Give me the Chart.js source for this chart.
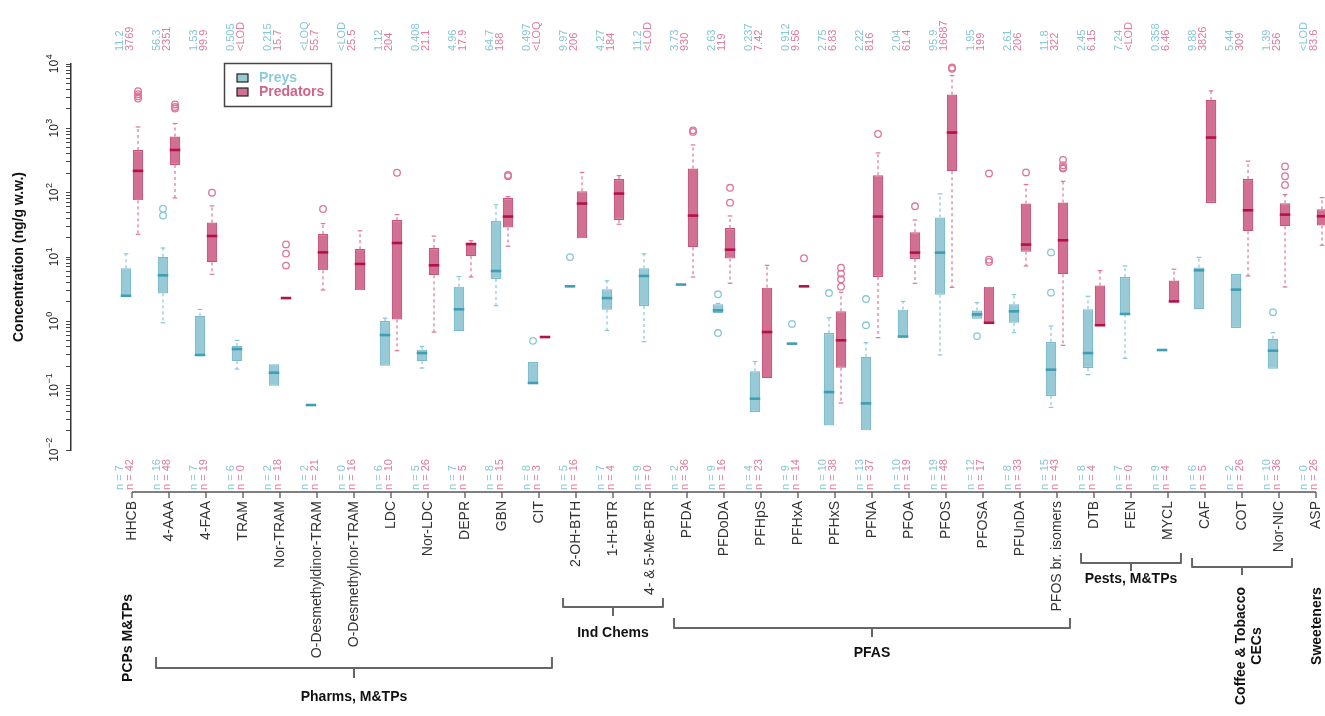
<!DOCTYPE html>
<html><head><meta charset="utf-8">
<script src="https://cdn.jsdelivr.net/npm/chart.js@4.4.1/dist/chart.umd.min.js"></script>
<style>html,body{margin:0;padding:0;background:#fff;}#wrap{width:1325px;height:716px;}</style>
</head><body><div id="wrap"><canvas id="c" width="1325" height="716"></canvas></div>
<script>
const categories = ['HHCB','4-AAA','4-FAA','TRAM','Nor-TRAM','O-Desmethyldinor-TRAM','O-Desmethylnor-TRAM','LDC','Nor-LDC','DEPR','GBN','CIT','2-OH-BTH','1-H-BTR','4- & 5-Me-BTR','PFDA','PFDoDA','PFHpS','PFHxA','PFHxS','PFNA','PFOA','PFOS','PFOSA','PFUnDA','PFOS br. isomers','DTB','FEN','MYCL','CAF','COT','Nor-NIC','ASP'];
const groups = [
  {name:'PCPs M&TPs', from:0, to:0},
  {name:'Pharms, M&TPs', from:1, to:11},
  {name:'Ind Chems', from:12, to:14},
  {name:'PFAS', from:15, to:25},
  {name:'Pests, M&TPs', from:26, to:28},
  {name:'Coffee & Tobacco\nCECs', from:29, to:31},
  {name:'Sweeteners', from:32, to:32}
];
const yTickExponents = [-2,-1,0,1,2,3,4];

// Preys
const preysLow    = [2.5,0.95,0.30,0.181,0.1,0.05,null,0.204,0.188,0.70,1.75,0.109,3.5,0.72,0.483,3.73,1.35,0.0389,0.45,0.024,0.0202,0.57,0.3,1.1,0.667,0.046,0.148,0.266,0.358,1.54,0.787,0.184,null];
const preysQ1     = [2.5,2.72,0.30,0.241,0.1,0.05,null,0.204,0.241,0.70,4.55,0.109,3.5,1.52,1.73,3.73,1.35,0.0389,0.45,0.024,0.0202,0.57,2.6,1.1,0.95,0.069,0.188,1.28,0.358,1.54,0.787,0.184,null];
const preysMedian = [2.5,5.19,0.30,0.371,0.159,0.05,null,0.612,0.321,1.54,6.06,0.11,3.5,2.3,5.07,3.73,1.48,0.0627,0.45,0.0796,0.053,0.58,11.7,1.28,1.43,0.177,0.321,1.3,0.358,6.21,3.11,0.35,null];
const preysQ3     = [6.7,10.1,1.22,0.413,0.215,0.05,null,1.01,0.363,3.46,36.3,0.233,3.5,3.15,6.67,3.73,1.84,0.167,0.45,0.658,0.282,1.52,41,1.47,1.84,0.477,1.54,4.89,0.358,6.84,5.44,0.537,null];
const preysHigh   = [11.2,13.8,1.53,0.505,0.215,0.05,null,1.12,0.408,4.96,64.7,0.233,3.5,4.27,11.2,3.73,1.9,0.237,0.45,1.14,0.466,2.04,95.9,1.95,2.61,0.845,2.45,7.24,0.358,9.88,5.44,0.667,null];
const preysOutliers = [[],[56.3,44],[],[],[],[],[],[],[],[],[],[0.497],[9.97],[],[],[],[2.63,0.658],[],[0.912],[2.75],[2.22,0.867],[],[],[0.59],[],[11.8,2.79],[],[],[],[],[],[1.39],[]];
const preysN   = [7,16,7,6,2,2,0,6,5,7,8,8,5,7,9,2,9,4,9,10,13,10,19,12,8,15,8,7,9,6,2,10,0];
const preysMax = ['11.2','56.3','1.53','0.505','0.215','<LOQ','<LOD','1.12','0.408','4.96','64.7','0.497','9.97','4.27','11.2','3.73','2.63','0.237','0.912','2.75','2.22','2.04','95.9','1.95','2.61','11.8','2.45','7.24','0.358','9.88','5.44','1.39','<LOD'];

// Predators
const predLow    = [22.5,82.7,5.38,null,2.3,3.07,3.03,0.35,0.68,4.89,14.7,0.57,19.5,32.3,null,4.89,3.9,0.131,3.5,0.0537,0.557,3.9,3.38,0.94,7.25,0.424,0.857,null,2.02,69.2,5.07,3.42,15.2];
const predQ1     = [76,270,8.27,null,2.3,6.2,3.03,1.07,5.19,10.3,28.7,0.57,19.5,37.6,null,14.2,9.44,0.131,3.5,0.19,4.89,9.3,215,0.94,12.1,5.38,0.857,null,2.02,69.2,25.1,30,30.8];
const predMedian = [218,461,21.2,null,2.3,11.8,7.8,16.5,7.43,15.9,42.5,0.57,67.7,96.8,null,44,13.0,0.682,3.5,0.507,42.5,11.7,860,0.95,15.6,18.2,0.87,null,2.04,719,53.2,45.6,43];
const predQ3     = [461,745,34.3,null,2.3,22.8,13.3,37.6,13.8,16.7,82.7,0.57,105,163,null,237,28.3,3.34,3.5,1.43,187,24.2,3357,3.46,67.7,70.2,3.59,null,4.3,2766,163,68.4,55.2];
const predHigh   = [1050,1187,62.2,null,2.3,33,25.5,45.6,21.1,17.9,87,0.57,206,184,null,552,43.4,7.42,3.5,2.83,415,37.6,6627,3.46,134,150,6.15,null,6.46,3826,309,93.4,83.6];
const predOutliers = [[3769,3400,3150,2900],[2351,2150,2030],[99.9],[],[15.7,11.3,7.35],[55.7],[],[204],[],[],[188,180],[],[],[],[],[930,880],[119,70],[],[9.56],[6.83,5.52,4.5,3.46],[816],[61.4],[8800,8400],[199,9.1,8.36],[206],[322,267,245,237],[],[],[],[],[],[256,180,132],[]];
const predN   = [42,48,19,0,18,21,16,10,26,5,15,3,16,4,0,36,16,23,14,38,37,19,48,17,33,43,4,0,4,5,26,36,26];
const predMax = ['3769','2351','99.9','<LOD','15.7','55.7','25.5','204','21.1','17.9','188','<LOQ','206','184','<LOD','930','119','7.42','9.56','6.83','816','61.4','16687','199','206','322','6.15','<LOD','6.46','3826','309','256','83.6'];

const FONT = '"Liberation Sans", Arial, Helvetica, sans-serif';
const COL = {
  preys: {fill:'rgba(128,190,205,0.82)', border:'#78bacb', median:'#3f9db4', whisker:'#86c8d7', text:'#86c6d6'},
  pred:  {fill:'rgba(204,92,132,0.88)', border:'#c4547c', median:'#b2124b', whisker:'#dc7597', text:'#e07b9e'}
};

function rotText(ctx, text, x, y, align, baseline, font, color){
  ctx.save(); ctx.translate(x, y); ctx.rotate(-Math.PI/2);
  ctx.font = font; ctx.fillStyle = color; ctx.textAlign = align; ctx.textBaseline = baseline;
  ctx.fillText(text, 0, 0); ctx.restore();
}
function seg(ctx, x1, y1, x2, y2){ ctx.beginPath(); ctx.moveTo(x1,y1); ctx.lineTo(x2,y2); ctx.stroke(); }

const bracketLayout = [
  {rotated:true, labelY:638, dx:-4},
  {lineY:668, armTop:657, stemBottom:678, labelY:697},
  {lineY:607, armTop:598, stemBottom:616, labelY:633},
  {lineY:628, armTop:618, stemBottom:637, labelY:653},
  {lineY:563, armTop:553, stemBottom:571, labelY:579},
  {lineY:567, armTop:558, stemBottom:575, rotated:true, labelY:646, dx:7},
  {rotated:true, labelY:626, dx:1}
];

const boxPlugin = {
  id: 'boxExtras',
  afterDatasetsDraw(chart){
    const ctx = chart.ctx, ys = chart.scales.y;
    const series = [
      {meta: chart.getDatasetMeta(0), low: preysLow, q1: preysQ1, med: preysMedian, q3: preysQ3, high: preysHigh, out: preysOutliers, col: COL.preys},
      {meta: chart.getDatasetMeta(1), low: predLow, q1: predQ1, med: predMedian, q3: predQ3, high: predHigh, out: predOutliers, col: COL.pred}
    ];
    const py = v => ys.getPixelForValue(v);
    series.forEach(s => {
      s.meta.data.forEach((el, i) => {
        const cx = el.x, w = el.width;
        ctx.save();
        ctx.strokeStyle = s.col.whisker; ctx.lineWidth = 1.2;
        if (s.med[i] != null) {
          ctx.setLineDash([3,3]);
          if (s.high[i] > s.q3[i]) seg(ctx, cx, py(s.q3[i]), cx, py(s.high[i]));
          if (s.low[i] < s.q1[i]) seg(ctx, cx, py(s.q1[i]), cx, py(s.low[i]));
          ctx.setLineDash([]);
          if (s.high[i] > s.q3[i]) seg(ctx, cx - w*0.22, py(s.high[i]), cx + w*0.22, py(s.high[i]));
          if (s.low[i] < s.q1[i]) seg(ctx, cx - w*0.22, py(s.low[i]), cx + w*0.22, py(s.low[i]));
          ctx.strokeStyle = s.col.median; ctx.lineWidth = 2.6;
          seg(ctx, cx - w/2, py(s.med[i]), cx + w/2, py(s.med[i]));
        }
        ctx.strokeStyle = s.col.whisker; ctx.lineWidth = 1.3;
        (s.out[i] || []).forEach(v => {
          ctx.beginPath(); ctx.arc(cx, py(v), 3.3, 0, Math.PI*2); ctx.stroke();
        });
        ctx.restore();
      });
    });
  },
  afterDraw(chart){
    const ctx = chart.ctx, xs = chart.scales.x, ys = chart.scales.y;
    const f11 = '11px ' + FONT;
    categories.forEach((c, i) => {
      const px = xs.getPixelForValue(i);
      rotText(ctx, preysMax[i], px - 12, 51, 'left', 'middle', f11, COL.preys.text);
      rotText(ctx, predMax[i], px - 2, 51, 'left', 'middle', f11, COL.pred.text);
      rotText(ctx, 'n = ' + preysN[i], px - 12, 490, 'left', 'middle', f11, COL.preys.text);
      rotText(ctx, 'n = ' + predN[i], px - 2, 490, 'left', 'middle', f11, COL.pred.text);
    });
    ctx.save();
    ctx.strokeStyle = '#555'; ctx.lineWidth = 1.3;
    const axY = 492;
    seg(ctx, xs.getPixelForValue(0), axY, xs.getPixelForValue(categories.length-1), axY);
    categories.forEach((c, i) => { const px = xs.getPixelForValue(i); seg(ctx, px, axY, px, axY + 6); });
    ctx.restore();
    const bold = 'bold 14px ' + FONT;
    groups.forEach((g, k) => {
      const L = bracketLayout[k];
      const x1 = xs.getPixelForValue(g.from - 0.35), x2 = xs.getPixelForValue(g.to + 0.35);
      const cx = (xs.getPixelForValue(g.from) + xs.getPixelForValue(g.to)) / 2;
      if (L.lineY !== undefined) {
        ctx.save(); ctx.strokeStyle = '#666'; ctx.lineWidth = 2; ctx.lineJoin = 'round';
        ctx.beginPath(); ctx.moveTo(x1, L.armTop); ctx.lineTo(x1, L.lineY); ctx.lineTo(x2, L.lineY); ctx.lineTo(x2, L.armTop); ctx.stroke();
        seg(ctx, cx, L.lineY, cx, L.stemBottom);
        ctx.restore();
      }
      const lines = g.name.split('\n');
      if (L.rotated) {
        lines.forEach((t, j) => {
          const lx = cx + (L.dx || 0) + (j - (lines.length - 1)/2) * 16;
          rotText(ctx, t, lx, L.labelY, 'center', 'middle', bold, '#111');
        });
      } else {
        ctx.save(); ctx.font = bold; ctx.fillStyle = '#111'; ctx.textAlign = 'center'; ctx.textBaseline = 'middle';
        ctx.fillText(g.name, cx, L.labelY); ctx.restore();
      }
    });
    yTickExponents.forEach(e => {
      const p = ys.getPixelForValue(Math.pow(10, e));
      ctx.save(); ctx.translate(58, p); ctx.rotate(-Math.PI/2);
      ctx.fillStyle = '#222'; ctx.textBaseline = 'alphabetic';
      ctx.font = '12px ' + FONT; const w1 = ctx.measureText('10').width;
      const ex = String(e).replace('-', '\u2212');
      ctx.font = '9px ' + FONT; const w2 = ctx.measureText(ex).width;
      const s0 = -(w1 + w2) / 2;
      ctx.font = '12px ' + FONT; ctx.textAlign = 'left'; ctx.fillText('10', s0, 0);
      ctx.font = '9px ' + FONT; ctx.fillText(ex, s0 + w1 + 0.5, -6);
      ctx.restore();
    });
    rotText(ctx, 'Concentration (ng/g w.w.)', 19, (chart.chartArea.top + chart.chartArea.bottom)/2, 'center', 'middle', bold, '#111');
    ctx.save();
    ctx.strokeStyle = '#444'; ctx.lineWidth = 1.5;
    ctx.strokeRect(224.5, 63.5, 107, 43);
    const items = [['Preys', COL.preys, 74], ['Predators', COL.pred, 88]];
    items.forEach(([t, c, y0]) => {
      ctx.fillStyle = c.fill; ctx.fillRect(237, y0, 11, 8);
      ctx.strokeStyle = '#222'; ctx.lineWidth = 1.2; ctx.strokeRect(237, y0, 11, 8);
      ctx.font = 'bold 14px ' + FONT; ctx.fillStyle = t === 'Preys' ? '#8ccad8' : '#d2648a';
      ctx.textAlign = 'left'; ctx.textBaseline = 'middle'; ctx.fillText(t, 259, y0 + 4.5);
    });
    ctx.restore();
  }
};

const mk = (q1, q3) => categories.map((_, i) => ({x: i, y: q1[i] == null ? null : [q1[i], q3[i]]}));

new Chart(document.getElementById('c'), {
  type: 'bar',
  data: {
    datasets: [
      {label: 'Preys', data: mk(preysQ1, preysQ3), backgroundColor: COL.preys.fill, borderColor: COL.preys.border, borderWidth: 1.2, borderSkipped: false, categoryPercentage: 0.65, barPercentage: 0.875},
      {label: 'Predators', data: mk(predQ1, predQ3), backgroundColor: COL.pred.fill, borderColor: COL.pred.border, borderWidth: 1.2, borderSkipped: false, categoryPercentage: 0.65, barPercentage: 0.875}
    ]
  },
  options: {
    responsive: false, animation: false, devicePixelRatio: 1,
    layout: {padding: {top: 64, right: 0, bottom: 0, left: 0}},
    plugins: {legend: {display: false}, tooltip: {enabled: false}},
    scales: {
      x: {
        type: 'linear', min: -1.6486, max: 32.243, offset: false,
        afterBuildTicks: s => { s.ticks = categories.map((_, i) => ({value: i})); },
        afterFit: s => { s.height = 266; s.paddingLeft = 0; s.paddingRight = 0; },
        grid: {display: false, drawTicks: false}, border: {display: false},
        ticks: {autoSkip: false, minRotation: 90, maxRotation: 90, padding: 51, color: '#333',
          font: {family: FONT, size: 14}, callback: v => categories[v] ?? ''}
      },
      y: {
        type: 'logarithmic', min: 0.01, max: 10000,
        afterBuildTicks: s => {
          const t = [];
          for (let e = -2; e <= 3; e++) for (let m = 1; m <= 9; m++) t.push({value: m * Math.pow(10, e)});
          t.push({value: 10000});
          s.ticks = t;
        },
        afterFit: s => { s.width = 71; s.paddingTop = 0; s.paddingBottom = 0; },
        ticks: {display: false},
        grid: {drawOnChartArea: false, drawTicks: true, tickLength: 5, color: '#444', lineWidth: 1},
        border: {display: true, color: '#333', width: 1.5}
      }
    }
  },
  plugins: [boxPlugin]
});
</script></body></html>
